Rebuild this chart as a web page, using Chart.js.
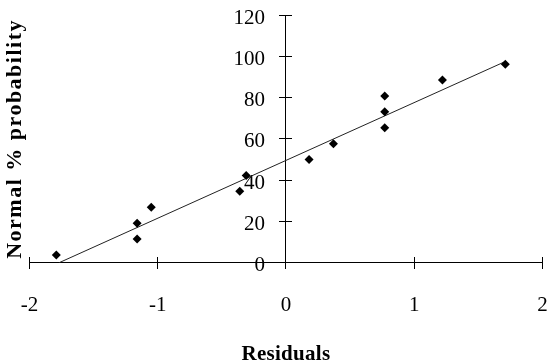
<!DOCTYPE html>
<html>
<head>
<meta charset="utf-8">
<script src="https://cdn.jsdelivr.net/npm/chart.js@4/dist/chart.umd.min.js"></script>
<style>
  html, body { margin: 0; padding: 0; background: #ffffff; }
  #c { display: block; }
</style>
</head>
<body>
<canvas id="c" width="547" height="364"></canvas>
<script>
// ---- data ----
const residuals   = [-1.79, -1.16, -1.16, -1.05, -0.36, -0.31, 0.18, 0.37, 0.77, 0.77, 0.77, 1.22, 1.71];
const normalProb  = [3.8, 19.2, 11.5, 26.9, 34.6, 42.3, 50.0, 57.7, 80.8, 73.1, 65.4, 88.5, 96.2];
const trendX      = [-1.77, 1.70];
const trendY      = [0, 97.2];
const xTicks      = [-2, -1, 0, 1, 2];
const yTicks      = [0, 20, 40, 60, 80, 100, 120];
const xTitle      = 'Residuals';
const yTitle      = 'Normal % probability';

const pts   = residuals.map((x, i) => ({ x: x, y: normalProb[i] }));
const trend = trendX.map((x, i) => ({ x: x, y: trendY[i] }));

const tickFont   = { family: 'Liberation Serif', size: 21, weight: 'normal' };
const xTitleFont = { family: 'Liberation Serif', size: 21, weight: 'bold' };
const yTitleFont = { family: 'Liberation Serif', size: 22, weight: 'bold' };

const noPad = s => { s.paddingLeft = 0; s.paddingRight = 0; s.paddingTop = 0; s.paddingBottom = 0; };

function wrapDraw(chart, obj, key, fn) {
  if (obj._wrapped) return;
  const orig = obj[key].bind(obj);
  obj[key] = function (ca) {
    const ctx = chart.ctx;
    ctx.save();
    fn(ctx);
    orig(ca);
    ctx.restore();
  };
  obj._wrapped = true;
}

const tweaks = {
  id: 'tweaks',
  beforeDraw(chart) {
    chart.boxes.forEach(b => {
      if (b.options && b.options.text === yTitle) {
        wrapDraw(chart, b, 'draw', ctx => { ctx.letterSpacing = '1.5px'; });
      }
      if (b.options && b.options.text === xTitle) {
        wrapDraw(chart, b, 'draw', ctx => { ctx.translate(0, 6); ctx.letterSpacing = '0.3px'; });
      }
    });
    const ys = chart.scales.y;
    if (ys) wrapDraw(chart, ys, 'drawLabels', ctx => { ctx.translate(0, 3); });
  }
};

new Chart(document.getElementById('c'), {
  type: 'scatter',
  data: {
    datasets: [
      {
        label: 'points',
        data: pts,
        pointStyle: 'rectRot',
        pointRadius: 4.5,
        pointHoverRadius: 4.5,
        backgroundColor: '#000000',
        borderColor: '#000000',
        borderWidth: 0,
        showLine: false
      },
      {
        label: 'trend',
        data: trend,
        showLine: true,
        pointRadius: 0,
        borderColor: '#222222',
        borderWidth: 1,
        fill: false
      }
    ]
  },
  options: {
    responsive: false,
    animation: false,
    devicePixelRatio: 1,
    layout: { padding: { top: 15, right: 4, bottom: 0, left: 0 } },
    plugins: {
      legend: { display: false },
      tooltip: { enabled: false },
      title: {
        display: true,
        text: xTitle,
        position: 'bottom',
        fullSize: false,
        color: '#000000',
        font: xTitleFont,
        padding: { top: 73, bottom: 3 }
      },
      subtitle: {
        display: true,
        text: yTitle,
        position: 'left',
        fullSize: false,
        color: '#000000',
        font: yTitleFont,
        padding: { top: 2, bottom: 1 }
      }
    },
    scales: {
      x: {
        type: 'linear',
        min: -2, max: 2,
        position: { y: 0 },
        afterBuildTicks: s => { s.ticks = xTicks.map(v => ({ value: v })); },
        afterFit: noPad,
        ticks: { font: tickFont, color: '#000000', padding: 24, maxRotation: 0 },
        grid: { drawOnChartArea: false, drawTicks: true, tickLength: 6, color: '#000000', lineWidth: 1 },
        border: { display: true, color: '#000000', width: 1 }
      },
      y: {
        type: 'linear',
        min: 0, max: 120,
        position: 'center',
        afterBuildTicks: s => { s.ticks = yTicks.map(v => ({ value: v })); },
        afterFit: noPad,
        ticks: { font: tickFont, color: '#000000', padding: 15 },
        grid: { drawOnChartArea: false, drawTicks: true, tickLength: 6, color: '#000000', lineWidth: 1 },
        border: { display: true, color: '#000000', width: 1 }
      },
      x2: {
        type: 'linear', axis: 'x',
        min: -2, max: 2,
        position: { y: 0 },
        afterBuildTicks: s => { s.ticks = xTicks.map(v => ({ value: v })); },
        afterFit: noPad,
        ticks: { display: false },
        grid: { drawOnChartArea: false, drawTicks: true, tickLength: -6, color: '#000000', lineWidth: 1 },
        border: { display: false }
      },
      y2: {
        type: 'linear', axis: 'y',
        min: 0, max: 120,
        position: 'center',
        afterBuildTicks: s => { s.ticks = yTicks.map(v => ({ value: v })); },
        afterFit: noPad,
        ticks: { display: false },
        grid: { drawOnChartArea: false, drawTicks: true, tickLength: -6, color: '#000000', lineWidth: 1 },
        border: { display: false }
      }
    }
  },
  plugins: [tweaks]
});
</script>
</body>
</html>
